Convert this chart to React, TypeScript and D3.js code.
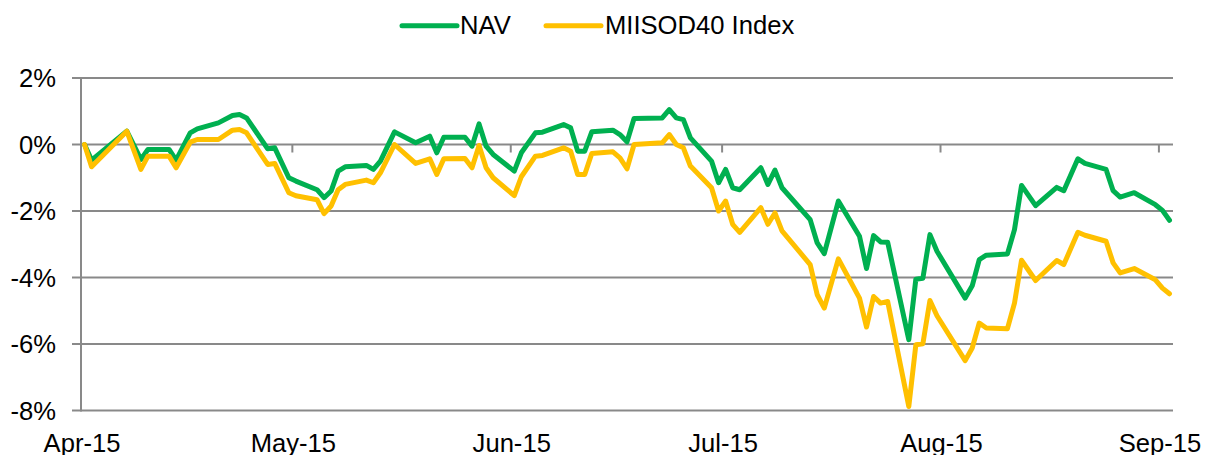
import React from "react";
import * as d3 from "d3";

const dates = [
  "2015-04-01","2015-04-02","2015-04-07","2015-04-09","2015-04-10","2015-04-13","2015-04-14","2015-04-16","2015-04-17","2015-04-20",
  "2015-04-22","2015-04-23","2015-04-24","2015-04-27","2015-04-28","2015-04-30","2015-05-01","2015-05-04","2015-05-05","2015-05-06",
  "2015-05-07","2015-05-08","2015-05-11","2015-05-12","2015-05-13","2015-05-15","2015-05-18","2015-05-20","2015-05-21","2015-05-22",
  "2015-05-25","2015-05-26","2015-05-27","2015-05-28","2015-05-29","2015-06-01","2015-06-02","2015-06-04","2015-06-05","2015-06-08",
  "2015-06-09","2015-06-10","2015-06-11","2015-06-12","2015-06-15","2015-06-16","2015-06-17","2015-06-18","2015-06-22","2015-06-23",
  "2015-06-24","2015-06-25","2015-06-26","2015-06-29","2015-06-30","2015-07-01","2015-07-02","2015-07-03","2015-07-06","2015-07-07",
  "2015-07-08","2015-07-09","2015-07-13","2015-07-14","2015-07-15","2015-07-17","2015-07-20","2015-07-21","2015-07-22","2015-07-23",
  "2015-07-24","2015-07-27","2015-07-28","2015-07-29","2015-07-30","2015-07-31","2015-08-04","2015-08-05","2015-08-06","2015-08-07",
  "2015-08-10","2015-08-11","2015-08-12","2015-08-14","2015-08-17","2015-08-18","2015-08-20","2015-08-21","2015-08-24","2015-08-25",
  "2015-08-26","2015-08-28","2015-08-31","2015-09-01","2015-09-02",
];

const navValues = [
  0, -0.47, 0.4, -0.45, -0.15, -0.15, -0.47, 0.35, 0.47, 0.65,
  0.87, 0.9, 0.8, -0.13, -0.1, -1.0, -1.1, -1.36, -1.6, -1.4,
  -0.8, -0.67, -0.63, -0.75, -0.5, 0.38, 0.05, 0.25, -0.25, 0.22,
  0.22, -0.05, 0.62, -0.05, -0.3, -0.8, -0.25, 0.35, 0.37, 0.6,
  0.5, -0.2, -0.2, 0.38, 0.43, 0.3, 0.08, 0.78, 0.8, 1.05,
  0.8, 0.75, 0.2, -0.5, -1.15, -0.75, -1.3, -1.36, -0.7, -1.2,
  -0.77, -1.3, -2.26, -2.96, -3.28, -1.7, -2.76, -3.73, -2.74, -2.93,
  -2.94, -5.87, -4.05, -4.02, -2.71, -3.21, -4.62, -4.25, -3.46, -3.33,
  -3.29, -2.56, -1.23, -1.84, -1.29, -1.39, -0.43, -0.57, -0.75, -1.39,
  -1.58, -1.45, -1.81, -1.98, -2.28,
];

const indexValues = [
  0, -0.67, 0.4, -0.75, -0.35, -0.35, -0.7, 0.07, 0.15, 0.15,
  0.43, 0.45, 0.35, -0.6, -0.57, -1.45, -1.54, -1.66, -2.08, -1.85,
  -1.36, -1.2, -1.07, -1.15, -0.85, 0.0, -0.57, -0.43, -0.9, -0.43,
  -0.42, -0.7, -0.03, -0.7, -1.0, -1.54, -0.97, -0.35, -0.33, -0.1,
  -0.2, -0.9, -0.9, -0.27, -0.22, -0.4, -0.73, 0.0, 0.05, 0.3,
  0.0, -0.1, -0.65, -1.3, -2.0, -1.7, -2.4, -2.64, -1.9, -2.4,
  -2.06, -2.6, -3.61, -4.52, -4.92, -3.44, -4.62, -5.49, -4.57, -4.77,
  -4.72, -7.88, -6.02, -5.99, -4.69, -5.15, -6.5, -6.12, -5.37, -5.52,
  -5.54, -4.77, -3.48, -4.09, -3.49, -3.61, -2.64, -2.73, -2.91, -3.56,
  -3.86, -3.73, -4.07, -4.32, -4.49,
];

const seriesNames = ["NAV", "MIISOD40 Index"];
const seriesColors = ["#00B050", "#FFC000"];
const yTicks = [2, 0, -2, -4, -6, -8];
const monthTicks = ["2015-04-01", "2015-05-01", "2015-06-01", "2015-07-01", "2015-08-01", "2015-09-01"];
const monthLabels = ["Apr-15", "May-15", "Jun-15", "Jul-15", "Aug-15", "Sep-15"];
const xDomain = ["2015-04-01", "2015-09-03"];

const parse = d3.timeParse("%Y-%m-%d");
const FONT = "'Liberation Sans', Arial, sans-serif";
const FS = 25.6;
const GRID = "#898989";

export default function App() {
  const left = 81, right = 1173, top = 78, bottom = 410.5;
  const x = d3.scaleTime().domain(xDomain.map((s) => parse(s) as Date)).range([left, right]);
  const y = d3.scaleLinear().domain([-8, 2]).range([bottom, top]);
  const px = (s: string) => x(d3.timeHour.offset(parse(s) as Date, 12));

  const allSeries = [navValues, indexValues];
  const line = d3
    .line<number>()
    .x((_, i) => px(dates[i]))
    .y((v) => y(v));

  return (
    <svg
      width={1207}
      height={455}
      style={{ position: "absolute", left: 0, top: 0, background: "#fff" }}
      fontFamily={FONT}
    >
      {/* gridlines with left ticks */}
      {yTicks.map((t) => (
        <line key={t} x1={72} x2={right} y1={y(t)} y2={y(t)} stroke={GRID} strokeWidth={2} />
      ))}
      {/* y axis */}
      <line x1={left} x2={left} y1={top} y2={bottom + 1} stroke={GRID} strokeWidth={2} />
      {/* x axis ticks at 0% */}
      {monthTicks.map((m) => (
        <line key={m} x1={x(parse(m) as Date)} x2={x(parse(m) as Date)} y1={y(0)} y2={y(0) + 8} stroke={GRID} strokeWidth={2} />
      ))}
      {/* y labels */}
      {yTicks.map((t) => (
        <text key={t} x={56} y={y(t)} dy="0.36em" textAnchor="end" fontSize={FS} fill="#000">
          {`${t}%`}
        </text>
      ))}
      {/* x labels */}
      {monthTicks.map((m, i) => (
        <text key={m} x={x(parse(m) as Date) + 1} y={452} textAnchor="middle" fontSize={FS} fill="#000">
          {monthLabels[i]}
        </text>
      ))}
      {/* series */}
      {allSeries.map((vals, si) => (
        <path
          key={si}
          d={line(vals) || ""}
          fill="none"
          stroke={seriesColors[si]}
          strokeWidth={5}
          strokeLinejoin="round"
          strokeLinecap="round"
        />
      ))}
      {/* legend */}
      {[
        { lx: 402, tx: 460 },
        { lx: 546, tx: 605 },
      ].map((p, i) => (
        <g key={i}>
          <line x1={p.lx} x2={p.lx + 55} y1={25.7} y2={25.7} stroke={seriesColors[i]} strokeWidth={5} strokeLinecap="round" />
          <text x={p.tx} y={34.3} fontSize={FS} fill="#000">
            {seriesNames[i]}
          </text>
        </g>
      ))}
    </svg>
  );
}
